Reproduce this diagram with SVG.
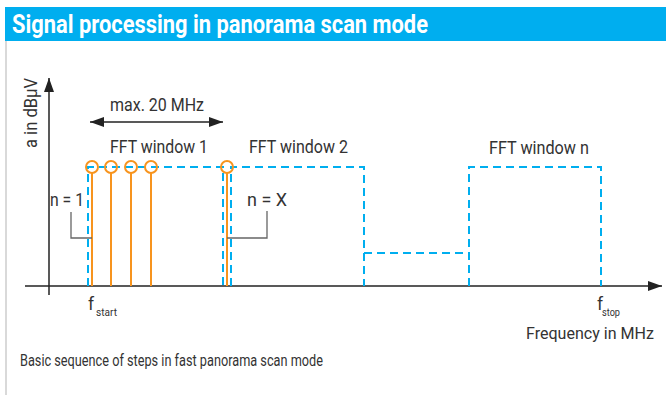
<svg xmlns="http://www.w3.org/2000/svg" width="666" height="395" viewBox="0 0 666 395">
<style>
.t{font-family:Roboto,"Liberation Sans",sans-serif;fill:#333;font-size:17.5px}
.title{font-family:Roboto,"Liberation Sans",sans-serif;fill:#fff;font-size:25px;font-weight:bold}
.win{fill:none;stroke:#00AEEF;stroke-width:2;stroke-dasharray:8 5}
.stem{stroke:#F7941E;stroke-width:2;fill:none}
.circ{fill:none;stroke:#F7941E;stroke-width:2}
.axis{stroke:#222;stroke-width:1.5;fill:none}
.br{stroke:#666;stroke-width:1.3;fill:none}
</style>
<defs>
<marker id="ah" viewBox="0 0 14 10" refX="14" refY="5" markerWidth="14" markerHeight="10" markerUnits="userSpaceOnUse" orient="auto-start-reverse">
<path d="M0,0 L14,5 L0,10 Z" fill="#222"/>
</marker>
</defs>
<rect x="0" y="0" width="666" height="395" fill="#fff"/>
<rect x="5" y="7" width="661" height="34" fill="#00AEEF"/>
<line x1="6" y1="41" x2="6" y2="395" stroke="#ccc" stroke-width="1.5"/>
<text class="title" x="12" y="33" textLength="416" lengthAdjust="spacingAndGlyphs">Signal processing in panorama scan mode</text>

<g id="axes">
<line class="axis" x1="49" y1="295" x2="49" y2="78" marker-end="url(#ah)"/>
<line class="axis" x1="25" y1="286" x2="662" y2="286" marker-end="url(#ah)"/>
<text class="t" transform="translate(37,148) rotate(-90)" textLength="70" lengthAdjust="spacingAndGlyphs">a in dBµV</text>
</g>

<g id="span">
<line class="axis" x1="90" y1="122" x2="223" y2="122" marker-start="url(#ah)" marker-end="url(#ah)"/>
<text class="t" x="110" y="111" textLength="94" lengthAdjust="spacingAndGlyphs">max. 20 MHz</text>
</g>

<g id="window1">
<path class="win" d="M88,286 V167 H223 V286"/>
<text class="t" x="110" y="153" textLength="98" lengthAdjust="spacingAndGlyphs">FFT window 1</text>
</g>
<g id="window2">
<path class="win" d="M231,286 V167 H364 V286"/>
<text class="t" x="249" y="153" textLength="99" lengthAdjust="spacingAndGlyphs">FFT window 2</text>
</g>
<g id="bridge">
<path class="win" d="M364,253 H469"/>
</g>
<g id="windown">
<path class="win" d="M469,286 V167 H601 V286"/>
<text class="t" x="489" y="154" textLength="100" lengthAdjust="spacingAndGlyphs">FFT window n</text>
</g>

<g id="lines">
<line class="stem" x1="92" y1="173" x2="92" y2="286"/>
<circle class="circ" cx="92" cy="167" r="6"/>
<line class="stem" x1="111" y1="173" x2="111" y2="286"/>
<circle class="circ" cx="111" cy="167" r="6"/>
<line class="stem" x1="131" y1="173" x2="131" y2="286"/>
<circle class="circ" cx="131" cy="167" r="6"/>
<line class="stem" x1="151" y1="173" x2="151" y2="286"/>
<circle class="circ" cx="151" cy="167" r="6"/>
<line class="stem" x1="227" y1="173" x2="227" y2="286"/>
<circle class="circ" cx="227" cy="167" r="6"/>
</g>

<g id="n1">
<path class="br" d="M71,212 V238 H92"/>
<text class="t" x="50" y="206" textLength="34" lengthAdjust="spacingAndGlyphs">n = 1</text>
</g>
<g id="nX">
<path class="br" d="M267,211 V238 H227"/>
<text class="t" x="247" y="206" textLength="40" lengthAdjust="spacingAndGlyphs">n = X</text>
</g>

<g id="labels">
<text class="t" x="88" y="310">f</text>
<text class="t" x="96" y="316" style="font-size:10.5px" textLength="21" lengthAdjust="spacingAndGlyphs">start</text>
<text class="t" x="597" y="310">f</text>
<text class="t" x="602" y="316" style="font-size:10.5px" textLength="18" lengthAdjust="spacingAndGlyphs">stop</text>
<text class="t" x="526" y="339" style="font-size:17px" textLength="128" lengthAdjust="spacingAndGlyphs">Frequency in MHz</text>
<text class="t" x="20" y="366" style="font-size:16.5px" textLength="303" lengthAdjust="spacingAndGlyphs">Basic sequence of steps in fast panorama scan mode</text>
</g>
</svg>
